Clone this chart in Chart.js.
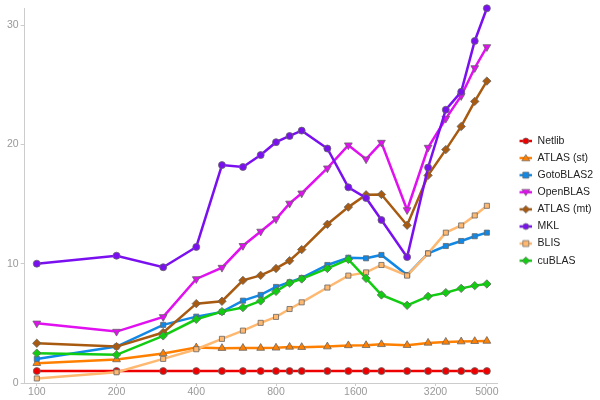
<!DOCTYPE html>
<html>
<head>
<meta charset="utf-8">
<script src="https://cdn.jsdelivr.net/npm/chart.js@4/dist/chart.umd.min.js"></script>
<style>
  html, body { margin: 0; padding: 0; background: #fff; }
  #wrap { width: 600px; height: 400px; }
</style>
</head>
<body>
<div id="wrap"><canvas id="blasChart" width="600" height="400"></canvas></div>
<script>
const sizes = [100, 200, 300, 400, 500, 600, 700, 800, 900, 1000, 1250, 1500, 1750, 2000, 2500, 3000, 3500, 4000, 4500, 5000];
const xTicks = [100, 200, 400, 800, 1600, 3200, 5000];
const yTicks = [0, 10, 20, 30];

const netlib   = [1.0, 1.0, 1.0, 1.0, 1.0, 1.0, 1.0, 1.0, 1.0, 1.0, 1.0, 1.0, 1.0, 1.0, 1.0, 1.0, 1.0, 1.0, 1.0, 1.0];
const atlasSt  = [1.66, 1.97, 2.47, 2.97, 2.92, 2.93, 2.93, 2.95, 3.02, 3.0, 3.05, 3.15, 3.16, 3.24, 3.17, 3.36, 3.44, 3.47, 3.5, 3.52];
const gotoBlas = [2.02, 3.05, 4.87, 5.56, 5.96, 6.9, 7.38, 8.05, 8.44, 8.8, 9.89, 10.5, 10.45, 10.73, 9.05, 10.86, 11.48, 11.9, 12.3, 12.6];
const openBlas = [5.0, 4.31, 5.54, 8.72, 9.67, 11.5, 12.7, 13.74, 15.05, 15.9, 18.0, 19.93, 18.76, 20.15, 14.5, 19.73, 22.16, 24.06, 26.4, 28.16];
const atlasMt  = [3.33, 3.05, 4.23, 6.65, 6.85, 8.6, 9.02, 9.6, 10.25, 11.18, 13.3, 14.74, 15.77, 15.8, 13.22, 17.4, 19.56, 21.5, 23.6, 25.3];
const mkl      = [10.0, 10.67, 9.7, 11.4, 18.26, 18.1, 19.1, 20.18, 20.7, 21.15, 19.65, 16.4, 15.5, 13.66, 10.55, 18.06, 22.9, 24.4, 28.66, 31.4];
const blis     = [0.38, 0.9, 2.02, 2.83, 3.7, 4.39, 5.04, 5.54, 6.2, 6.76, 8.0, 9.0, 9.27, 9.89, 9.0, 10.86, 12.6, 13.2, 14.04, 14.85];
const cuBlas   = [2.5, 2.36, 3.95, 5.34, 5.98, 6.32, 6.88, 7.68, 8.38, 8.72, 9.6, 10.36, 8.77, 7.38, 6.51, 7.26, 7.57, 7.93, 8.16, 8.3];

const seriesNames = ['Netlib', 'ATLAS (st)', 'GotoBLAS2', 'OpenBLAS', 'ATLAS (mt)', 'MKL', 'BLIS', 'cuBLAS'];
const seriesData = [netlib, atlasSt, gotoBlas, openBlas, atlasMt, mkl, blis, cuBlas];
const seriesColors = ['#ee0000', '#ff8000', '#1188e6', '#e010f0', '#a85a10', '#7a10f0', '#ffb870', '#11cc11'];
const seriesMarkers = ['circle', 'triangle', 'rect', 'triangleDown', 'rectRot', 'circle', 'rect', 'rectRot'];

const markerBorder = '#666';

function markerOpts(kind) {
    if (kind === 'triangle') return { pointStyle: 'triangle', pointRadius: 4.5, pointRotation: 0 };
    if (kind === 'triangleDown') return { pointStyle: 'triangle', pointRadius: 4.5, pointRotation: 180 };
    if (kind === 'rect') return { pointStyle: 'rect', pointRadius: 3.6, pointRotation: 0 };
    if (kind === 'rectRot') return { pointStyle: 'rectRot', pointRadius: 4.2, pointRotation: 0 };
    return { pointStyle: 'circle', pointRadius: 3.5, pointRotation: 0 };
}

// legend icon: transparent gap on the left, then a short line with the marker on it
function legendIcon(color, kind) {
    const c = document.createElement('canvas');
    c.width = 28; c.height = 10;
    const g = c.getContext('2d');
    const x0 = 15.5, x1 = 28, cx = 21.8, cy = 5;
    g.strokeStyle = color;
    g.lineWidth = 2.5;
    g.beginPath(); g.moveTo(x0, cy); g.lineTo(x1, cy); g.stroke();
    g.fillStyle = color;
    g.strokeStyle = markerBorder;
    g.lineWidth = 0.7;
    g.beginPath();
    if (kind === 'circle') {
        g.arc(cx, cy, 3, 0, Math.PI * 2);
    } else if (kind === 'triangle') {
        g.moveTo(cx, cy - 3.5); g.lineTo(cx + 4, cy + 2.8); g.lineTo(cx - 4, cy + 2.8); g.closePath();
    } else if (kind === 'triangleDown') {
        g.moveTo(cx, cy + 3.5); g.lineTo(cx + 4, cy - 2.8); g.lineTo(cx - 4, cy - 2.8); g.closePath();
    } else if (kind === 'rect') {
        g.rect(cx - 3, cy - 3, 6, 6);
    } else {
        g.moveTo(cx, cy - 3.8); g.lineTo(cx + 3.8, cy); g.lineTo(cx, cy + 3.8); g.lineTo(cx - 3.8, cy); g.closePath();
    }
    g.fill();
    g.stroke();
    return c;
}

const datasets = seriesNames.map((name, i) => {
    const m = markerOpts(seriesMarkers[i]);
    return {
        label: name,
        data: sizes.map((s, j) => ({ x: s, y: seriesData[i][j] })),
        borderColor: seriesColors[i],
        backgroundColor: seriesColors[i],
        borderWidth: 2.5,
        pointBackgroundColor: seriesColors[i],
        pointBorderColor: markerBorder,
        pointBorderWidth: 0.8,
        pointStyle: m.pointStyle,
        pointRadius: m.pointRadius,
        pointRotation: m.pointRotation,
        tension: 0,
        fill: false,
        clip: false,
        order: seriesNames.length - i
    };
});

const icons = seriesNames.map((n, i) => legendIcon(seriesColors[i], seriesMarkers[i]));

Chart.defaults.font.family = "'Liberation Sans', Arial, sans-serif";
Chart.defaults.font.size = 10.5;

new Chart(document.getElementById('blasChart').getContext('2d'), {
    type: 'line',
    data: { datasets: datasets },
    options: {
        responsive: false,
        animation: false,
        layout: { padding: { top: 3, left: 5, right: -3, bottom: 1.4 } },
        scales: {
            x: {
                type: 'logarithmic',
                min: 90,
                max: 5470,
                afterBuildTicks: (scale) => { scale.ticks = xTicks.map(v => ({ value: v })); },
                ticks: {
                    color: '#999',
                    padding: 0,
                    autoSkip: false,
                    maxRotation: 0,
                    callback: (v) => String(v)
                },
                grid: { drawOnChartArea: false, drawTicks: true, tickLength: 3, color: '#ccc' },
                border: { color: '#ccc' }
            },
            y: {
                min: 0,
                max: 31.4,
                afterBuildTicks: (scale) => { scale.ticks = yTicks.map(v => ({ value: v })); },
                ticks: { color: '#999', padding: 2 },
                grid: { drawOnChartArea: false, drawTicks: true, tickLength: 4, color: '#ccc' },
                border: { color: '#ccc' }
            }
        },
        plugins: {
            legend: {
                position: 'right',
                labels: {
                    usePointStyle: true,
                    pointStyleWidth: 28.5,
                    padding: 6.6,
                    color: '#222',
                    font: { size: 10.5 },
                    generateLabels: (chart) => {
                        const items = Chart.defaults.plugins.legend.labels.generateLabels(chart);
                        items.sort((a, b) => a.datasetIndex - b.datasetIndex);
                        items.forEach(it => {
                            it.pointStyle = icons[it.datasetIndex];
                            it.rotation = 0;
                        });
                        return items;
                    }
                }
            },
            tooltip: { enabled: false }
        }
    }
});
</script>
</body>
</html>
